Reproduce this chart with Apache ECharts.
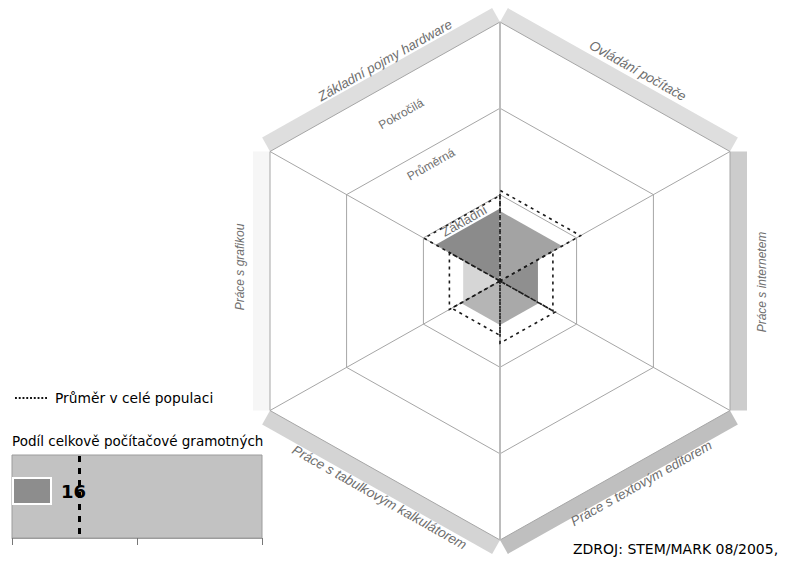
<!DOCTYPE html>
<html>
<head>
<meta charset="utf-8">
<script src="https://cdn.jsdelivr.net/npm/echarts@6/dist/echarts.min.js"></script>
<style>
  html, body { margin: 0; padding: 0; background: #fff; }
  #chart { width: 788px; height: 564px; }
</style>
</head>
<body>
<div id="chart"></div>
<script>
// Oblasti počítačových dovedností (hrany šestiúhelníku, po směru hodinových ručiček od levé horní)
const categories = [
  'Základní pojmy hardware',
  'Ovládání počítače',
  'Práce s internetem',
  'Práce s textovým editorem',
  'Práce s tabulkovým kalkulátorem',
  'Práce s grafikou'
];
// Hodnoty skupiny a průměr celé populace, škála 0–100 (100 = vnější šestiúhelník)
const groupValues   = [28, 27, 16.5, 17, 17, 16];
const populationAvg = [33, 35, 23, 24, 21, 22];
// Úrovně dovedností (hranice soustředných šestiúhelníků)
const levelLabels = ['Základní', 'Průměrná', 'Pokročilá'];
const levelBounds = [33.3, 66.7, 100];
// Podíl celkově počítačově gramotných
const shareCategories = ['Skupina'];
const shareValue = [16];
const shareAvg = [27];
const shareTicks = [0, 50, 100];

// ---- vzhled ----
const RX = 230, RY = 259;            // poloměr šestiúhelníku v px (vodorovně / svisle)
const VERTS = [                       // vrcholy, osa y nahoru
  [-RX, RY / 2], [0, RY], [RX, RY / 2], [RX, -RY / 2], [0, -RY], [-RX, -RY / 2]
];
const sectorFill = ['#8b8b8b', '#a3a3a3', '#8f8f8f', '#a9a9a9', '#b5b5b5', '#d6d6d6'];
const bandFill   = ['#dedede', '#dedede', '#cccccc', '#bfbfbf', '#d4d4d4', '#f6f6f6'];
const bandWidth  = [16, 16, 17, 16, 16, 17];
// posun popisku hrany: [podél hrany, ven od hrany]
const labelShift = [[13, 23], [12, 25], [1, 32], [-19, 20], [-6, 22], [14, 30]];
const labelFont  = [13.5, 13.5, 12, 13.5, 13.5, 12];
const levelPos = [0.31, 0.6, 0.86];
const levelFont = [13, 12, 12];

function scaled(j, v) {
  const p = VERTS[(j + 6) % 6];
  return [p[0] * v / 100, p[1] * v / 100];
}
function edgeInfo(k) {
  const A = VERTS[k], B = VERTS[(k + 1) % 6];
  const len = Math.hypot(B[0] - A[0], B[1] - A[1]);
  const d = [(B[0] - A[0]) / len, (B[1] - A[1]) / len];
  const M = [(A[0] + B[0]) / 2, (A[1] + B[1]) / 2];
  let n = [d[1], -d[0]];
  if (n[0] * M[0] + n[1] * M[1] < 0) n = [-n[0], -n[1]];
  let ang = Math.atan2(d[1], d[0]);
  if (ang > Math.PI / 2 + 1e-6) ang -= Math.PI;
  if (ang <= -Math.PI / 2 + 1e-6) ang += Math.PI;
  return { A, B, d, M, n, ang };
}

const chart = echarts.init(document.getElementById('chart'), null, { renderer: 'svg' });

const option = {
  animation: false,
  backgroundColor: '#fff',
  title: [
    {
      text: 'Podíl celkově počítačové gramotných',
      left: 7, top: 429,
      textStyle: { fontSize: 13.5, fontWeight: 'normal', fontFamily: 'DejaVu Sans', color: '#000' }
    },
    {
      text: 'ZDROJ: STEM/MARK 08/2005,',
      left: 568, top: 537,
      textStyle: { fontSize: 14, fontWeight: 'normal', fontFamily: 'DejaVu Sans', color: '#000' }
    }
  ],
  legend: {
    left: 10, top: 386,
    orient: 'vertical',
    itemWidth: 32, itemHeight: 2,
    textStyle: { fontSize: 13.8, fontFamily: 'DejaVu Sans', color: '#000', padding: [0, 0, 0, 3] },
    selectedMode: false,
    data: [{
      name: 'Průměr v celé populaci',
      icon: 'path://M0,0h2v2h-2zM4,0h2v2h-2zM8,0h2v2h-2zM12,0h2v2h-2zM16,0h2v2h-2zM20,0h2v2h-2zM24,0h2v2h-2zM28,0h2v2h-2zM32,0h2v2h-2z',
      itemStyle: { color: '#111' }
    }]
  },
  grid: [
    { left: 0, top: 0, width: 788, height: 564, show: false },
    { left: 12, top: 455, width: 250, height: 83, show: true,
      backgroundColor: '#c2c2c2', borderColor: '#9c9c9c', borderWidth: 1 },
    { left: 12, top: 455, width: 250, height: 72, show: false }
  ],
  xAxis: [
    { gridIndex: 0, type: 'value', min: -500, max: 288, show: false },
    { gridIndex: 1, type: 'value', min: shareTicks[0], max: shareTicks[shareTicks.length - 1],
      interval: shareTicks[1] - shareTicks[0],
      axisLine: { show: true, lineStyle: { color: '#9c9c9c' } },
      axisTick: { show: true, length: 7, lineStyle: { color: '#777' } },
      axisLabel: { show: false }, splitLine: { show: false } },
    { gridIndex: 2, type: 'value', min: shareTicks[0], max: shareTicks[shareTicks.length - 1], show: false }
  ],
  yAxis: [
    { gridIndex: 0, type: 'value', min: -283, max: 281, show: false },
    { gridIndex: 1, type: 'value', min: 0, max: 1, show: false },
    { gridIndex: 2, type: 'category', data: shareCategories, show: false }
  ],
  series: [
    // pásy podél hran s názvy oblastí
    {
      type: 'custom', xAxisIndex: 0, yAxisIndex: 0, z: 1, silent: true,
      data: categories.map((c, k) => [k, 100]),
      renderItem: function (params, api) {
        const k = api.value(0);
        const e = edgeInfo(k);
        const w = bandWidth[k];
        const pts = [
          e.A, e.B,
          [e.B[0] + w * e.n[0], e.B[1] + w * e.n[1]],
          [e.A[0] + w * e.n[0], e.A[1] + w * e.n[1]]
        ].map(p => api.coord(p));
        const s = labelShift[k];
        const lp = api.coord([
          e.M[0] + s[0] * e.d[0] + s[1] * e.n[0],
          e.M[1] + s[0] * e.d[1] + s[1] * e.n[1]
        ]);
        return {
          type: 'group',
          children: [
            { type: 'polygon', shape: { points: pts }, style: { fill: bandFill[k] } },
            { type: 'text', x: lp[0], y: lp[1], rotation: e.ang,
              style: { text: categories[k], fill: '#6e6e6e', align: 'center', verticalAlign: 'middle',
                       fontSize: labelFont[k], fontStyle: 'italic', fontFamily: 'Liberation Sans, Arial' } }
          ]
        };
      }
    },
    // hodnoty skupiny – výseče
    {
      type: 'custom', xAxisIndex: 0, yAxisIndex: 0, z: 2, silent: true,
      data: groupValues.map((v, k) => [k, v]),
      renderItem: function (params, api) {
        const k = api.value(0), v = api.value(1);
        const pts = [[0, 0], scaled(k, v), scaled(k + 1, v)].map(p => api.coord(p));
        return { type: 'polygon', shape: { points: pts }, style: { fill: sectorFill[k] } };
      }
    },
    // soustředné šestiúhelníky úrovní
    {
      type: 'custom', xAxisIndex: 0, yAxisIndex: 0, z: 3, silent: true,
      data: levelBounds.map((b, i) => [i, b]),
      renderItem: function (params, api) {
        const b = api.value(1);
        const pts = VERTS.map((p, j) => api.coord(scaled(j, b)));
        return { type: 'polygon', shape: { points: pts },
                 style: { fill: 'none', stroke: '#a6a6a6', lineWidth: 1 } };
      }
    },
    // paprsky ze středu
    {
      type: 'custom', xAxisIndex: 0, yAxisIndex: 0, z: 3, silent: true,
      data: [[0, 100], [1, 100], [2, 100]],
      renderItem: function (params, api) {
        const j = api.value(0), r = api.value(1);
        const p1 = api.coord(scaled(j + 1, r)), p2 = api.coord(scaled(j + 4, r));
        const vertical = (j === 0);
        return { type: 'line', shape: { x1: p1[0], y1: p1[1], x2: p2[0], y2: p2[1] },
                 style: { stroke: vertical ? '#bcbcbc' : '#a6a6a6', lineWidth: vertical ? 2 : 1 } };
      }
    },
    // průměr celé populace – čárkované výseče
    {
      name: 'Průměr v celé populaci',
      type: 'custom', xAxisIndex: 0, yAxisIndex: 0, z: 4, silent: true,
      itemStyle: { color: '#111' },
      data: populationAvg.map((v, k) => [k, v]),
      renderItem: function (params, api) {
        const k = api.value(0), v = api.value(1);
        const pts = [[0, 0], scaled(k, v), scaled(k + 1, v)].map(p => api.coord(p));
        return { type: 'polygon', shape: { points: pts },
                 style: { fill: 'none', stroke: '#1a1a1a', lineWidth: 1.6, lineDash: [3, 4] } };
      }
    },
    // popisky úrovní v levé horní výseči
    {
      type: 'custom', xAxisIndex: 0, yAxisIndex: 0, z: 5, silent: true,
      data: levelLabels.map((t, i) => [i, levelBounds[i]]),
      renderItem: function (params, api) {
        const i = api.value(0);
        const e = edgeInfo(0);
        const p = api.coord([e.M[0] * levelPos[i], e.M[1] * levelPos[i]]);
        return { type: 'text', x: p[0], y: p[1], rotation: e.ang,
                 style: { text: levelLabels[i], fill: '#707070', align: 'center', verticalAlign: 'middle',
                          fontSize: levelFont[i], fontFamily: 'Liberation Sans, Arial' } };
      }
    },
    // průměr celé populace u podílu gramotných – svislá čárkovaná čára přes celé pole
    {
      type: 'custom', xAxisIndex: 1, yAxisIndex: 1, z: 4, silent: true,
      data: shareAvg.map(v => [v, 0]),
      renderItem: function (params, api) {
        const x = api.coord([api.value(0), 0])[0];
        const cs = params.coordSys;
        return { type: 'line', shape: { x1: x, y1: cs.y + 1, x2: x, y2: cs.y + cs.height },
                 style: { stroke: '#000', lineWidth: 3, lineDash: [6, 6] } };
      }
    },
    // podíl gramotných
    {
      type: 'bar', xAxisIndex: 2, yAxisIndex: 2, z: 8,
      data: shareValue,
      barWidth: 28,
      itemStyle: { color: '#8d8d8d', borderColor: '#fff', borderWidth: 2 },
      label: { show: true, position: 'right', distance: 9, fontSize: 18, fontWeight: 'bold',
               fontFamily: 'DejaVu Sans', color: '#000' }
    }
  ]
};
chart.setOption(option);
</script>
</body>
</html>
